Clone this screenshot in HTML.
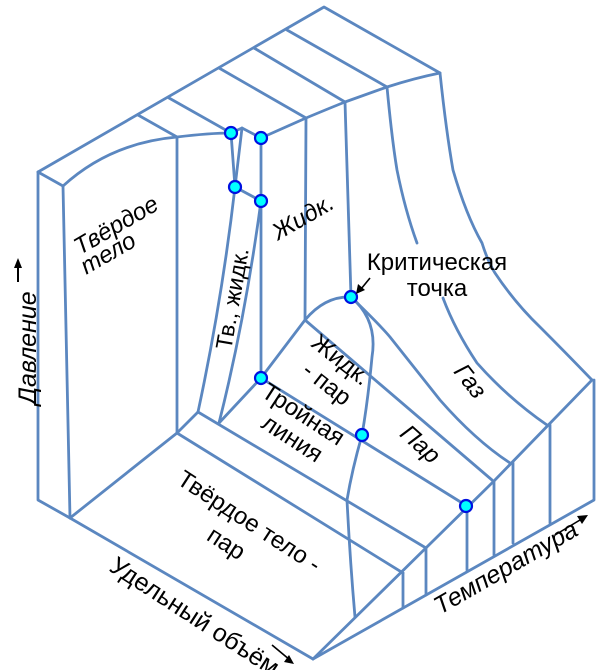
<!DOCTYPE html>
<html><head><meta charset="utf-8"><style>
html,body{margin:0;padding:0;background:#fff;}
svg{display:block;}
text{font-family:"Liberation Sans",sans-serif;fill:#000;}
.i{font-style:italic;}
</style></head><body>
<svg width="600" height="670" viewBox="0 0 600 670" xmlns="http://www.w3.org/2000/svg">
<g fill="none" stroke="#5b87c0" stroke-width="2.8" stroke-linejoin="round" stroke-linecap="round">
<path d="M38,172 L324,7 L440,73"/>
<path d="M38,172 L63,186"/>
<path d="M63,186 Q110,143 177,137 Q210,133 231,133"/>
<path d="M231,133 L242,128 L261,138 L306,118"/>
<path d="M306,118 Q330,108 345,102 Q370,93 387,87 Q415,78 440,73"/>
<path d="M138,115 L177,137"/>
<path d="M169,98 L231,133"/>
<path d="M219,68 L306,118"/>
<path d="M254,48 L345,102"/>
<path d="M287,30 L387,87"/>
<path d="M38,172 L38,500 L70,518"/>
<path d="M63,186 L70,518"/>
<path d="M177,137 L177,433"/>
<path d="M231,133 L235,187"/>
<path d="M242,128 L235,187"/>
<path d="M235,187 Q222,300 198,412"/>
<path d="M235,187 L261,201"/>
<path d="M261,138 L261,378"/>
<path d="M261,201 Q245,320 219,423"/>
<path d="M306,118 L305,320"/>
<path d="M345,102 L351,297"/>
<path d="M261,378 L305,320 Q325,296 351,297"/>
<path d="M351,297 Q378,320 372,357 Q368,400 362,435 Q352,470 347,500 Q350,560 355,617"/>
<path d="M305,320 L492,480"/>
<path d="M351,297 Q380,325 390,337 Q420,375 440,400 Q475,440 510,463"/>
<path d="M387,87 Q392,140 397,170 Q405,210 417,243"/>
<path d="M443,298 Q455,330 477,363 Q508,398 547,425"/>
<path d="M440,73 Q446,130 453,170 Q466,215 482,243 Q488,262 495,273 Q515,303 540,327 Q565,352 592,380"/>
<path d="M177,433 L70,518"/>
<path d="M177,433 L198,412"/>
<path d="M198,412 L426,548"/>
<path d="M177,433 L403,573"/>
<path d="M219,423 L261,378"/>
<path d="M261,378 L467,506"/>
<path d="M70,518 L313,659"/>
<path d="M313,659 L494,481 L592,380"/>
<path d="M313,659 L594,500 L594,380"/>
<path d="M403,573 L403,608"/>
<path d="M426,548 L426,595"/>
<path d="M467,506 L467,570"/>
<path d="M494,481 L494,555"/>
<path d="M513,463 L513,543"/>
<path d="M550,425 L550,523"/>
</g>
<g fill="#00ffff" stroke="#0010e0" stroke-width="2.2">
<circle cx="231" cy="133" r="6"/>
<circle cx="261" cy="138" r="6"/>
<circle cx="235" cy="187" r="6"/>
<circle cx="261" cy="201" r="6"/>
<circle cx="351" cy="297" r="6"/>
<circle cx="261" cy="378" r="6"/>
<circle cx="362" cy="435" r="6"/>
<circle cx="466" cy="506" r="6"/>
</g>
<path d="M370,278 L361,289" stroke="#000" stroke-width="1.6"/>
<path d="M356,294 L358,284 L365,290 Z" fill="#000"/>
<g font-size="24">
<text x="437" y="270" text-anchor="middle">Критическая</text>
<text x="437" y="296" text-anchor="middle">точка</text>
<text class="i" transform="translate(120,232) rotate(-30)" text-anchor="middle">Твёрдое</text>
<text class="i" transform="translate(112,260) rotate(-30)" text-anchor="middle">тело</text>
<text transform="translate(240,300) rotate(-80)" text-anchor="middle" font-size="23">Тв., жидк.</text>
<text class="i" transform="translate(307,224) rotate(-30)" text-anchor="middle">Жидк.</text>
<text transform="translate(336,366) rotate(38)" text-anchor="middle">Жидк.</text>
<text transform="translate(322,390) rotate(38)" text-anchor="middle">- пар</text>
<text transform="translate(299,421) rotate(33)" text-anchor="middle">Тройная</text>
<text transform="translate(288,445) rotate(33)" text-anchor="middle">линия</text>
<text class="i" transform="translate(415,450) rotate(42)" text-anchor="middle">Пар</text>
<text class="i" transform="translate(464,386) rotate(52)" text-anchor="middle">Газ</text>
<text transform="translate(245,528) rotate(33)" text-anchor="middle">Твёрдое тело -</text>
<text transform="translate(222,550) rotate(33)" text-anchor="middle">пар</text>
<text class="i" transform="translate(36,348) rotate(-90)" text-anchor="middle" font-size="25">Давление</text>
<text transform="translate(108,570) rotate(33)" font-size="25">Удельный объём</text>
<text class="i" transform="translate(440,615) rotate(-30)" font-size="25">Температура</text>
</g>
<path d="M18,282 L18,266" stroke="#000" stroke-width="2"/>
<path d="M14,268 L18,258 L22,268 Z" fill="#000"/>
<path d="M555,535 L585,517" stroke="#000" stroke-width="1.6"/>
<path d="M577,516 L588,515 L582,524 Z" fill="#000"/>
<path d="M272,645 L290,660" stroke="#000" stroke-width="1.6"/>
<path d="M284,662 L294,664 L289,655 Z" fill="#000"/>
</svg>
</body></html>
